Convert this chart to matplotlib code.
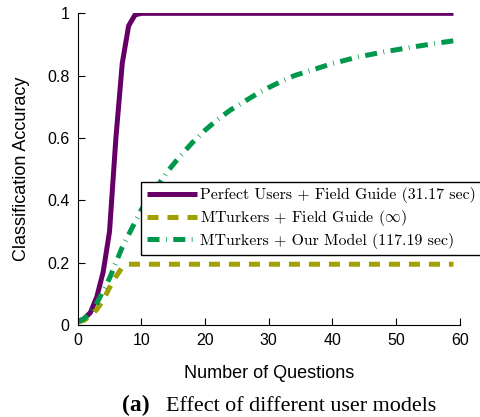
import matplotlib
matplotlib.use("Agg")
import matplotlib.pyplot as plt

# Data
perfect_x = list(range(0, 60))
perfect_y = [0.01, 0.02, 0.04, 0.09, 0.17, 0.30, 0.60, 0.84, 0.96, 0.995] + [1.0] * 50

mturk_fg_x = list(range(0, 60))
mturk_fg_y = [0.01, 0.015, 0.03, 0.05, 0.08, 0.12, 0.155, 0.185, 0.195] + [0.195] * 51

mturk_model_x = [0, 1, 2, 3, 4, 5, 6, 7, 8, 9, 10, 12, 14, 16, 18, 20, 22, 24, 26, 28,
                 30, 32, 34, 36, 38, 40, 44, 48, 52, 56, 59]
mturk_model_y = [0.01, 0.02, 0.04, 0.07, 0.11, 0.15, 0.20, 0.25, 0.29, 0.33, 0.37, 0.43,
                 0.49, 0.54, 0.585, 0.625, 0.66, 0.69, 0.715, 0.74, 0.762, 0.782, 0.80,
                 0.813, 0.826, 0.839, 0.86, 0.876, 0.89, 0.903, 0.912]

labels = ["Perfect Users + Field Guide (31.17 sec)",
          r"MTurkers + Field Guide ($\infty$)",
          "MTurkers + Our Model (117.19 sec)"]

plt.rcParams["mathtext.fontset"] = "cm"
plt.rcParams["font.family"] = ["Liberation Sans", "DejaVu Sans"]

fig = plt.figure(figsize=(4.81, 4.17), dpi=100)
ax = fig.add_axes([0.1615, 0.2206, 0.7945, 0.7474])

ax.plot(perfect_x, perfect_y, color="#660066", lw=3.6, solid_capstyle="butt",
        label=labels[0])
ax.plot(mturk_fg_x, mturk_fg_y, color="#a0a000", lw=3.6, dash_capstyle="butt",
        linestyle=(0, (2.2, 1.8)), label=labels[1])
ax.plot(mturk_model_x, mturk_model_y, color="#00994c", lw=3.6, dash_capstyle="butt",
        linestyle=(0, (2.4, 1.3, 0.15, 1.3)), label=labels[2])

ax.set_xlim(0, 60)
ax.set_ylim(0, 1)
ax.set_xticks([0, 10, 20, 30, 40, 50, 60])
ax.set_yticks([0, 0.2, 0.4, 0.6, 0.8, 1])
ax.set_yticklabels(["0", "0.2", "0.4", "0.6", "0.8", "1"])
ax.tick_params(direction="in", length=5, labelsize=11.5, width=0.8, pad=6)
ax.spines["top"].set_visible(False)
ax.spines["right"].set_visible(False)

ax.set_xlabel("Number of Questions", fontsize=13, labelpad=12)
ax.set_ylabel("Classification Accuracy", fontsize=13, labelpad=12)

leg = ax.legend(loc="upper left", bbox_to_anchor=(0.1656, 0.459), borderaxespad=0,
                fancybox=False, framealpha=1, edgecolor="black",
                prop={"family": "cmr10", "size": 11.4}, handlelength=3.2,
                handletextpad=0.2, labelspacing=0.3, borderpad=0.35)
leg.get_frame().set_linewidth(1.0)

fig.text(0.254, 0.015, "(a)", fontsize=17, fontweight="bold",
         family="Liberation Serif", ha="left", va="baseline")
fig.text(0.345, 0.015, "Effect of different user models", fontsize=15.9,
         family="Liberation Serif", ha="left", va="baseline")

fig.savefig("out.png", dpi=100)
